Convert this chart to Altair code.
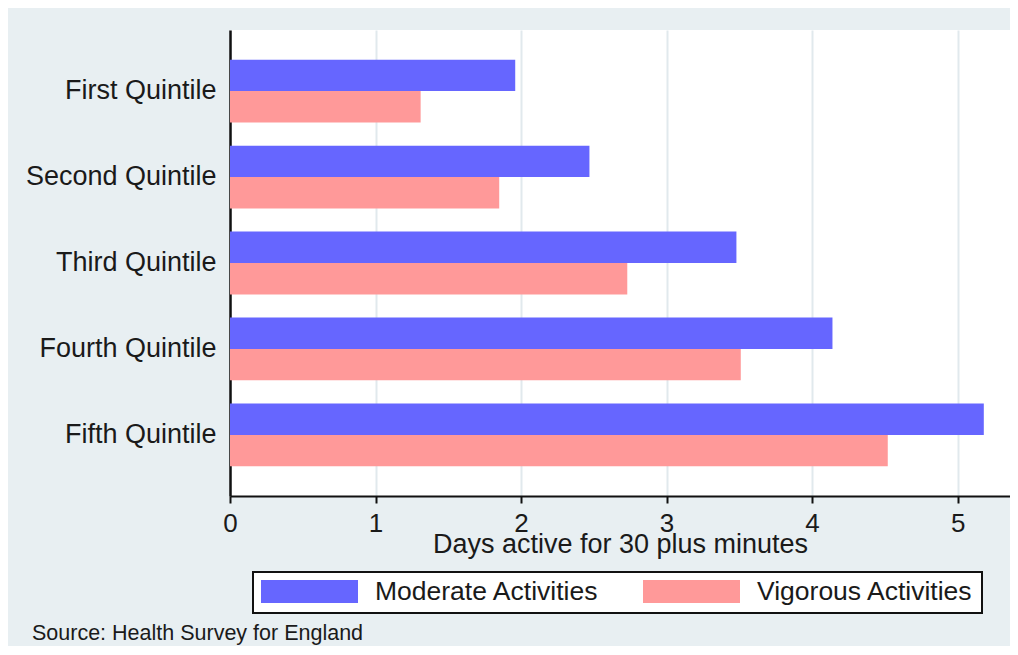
import altair as alt
import pandas as pd

quintiles = ["First Quintile", "Second Quintile", "Third Quintile", "Fourth Quintile", "Fifth Quintile"]
series = ["Moderate Activities", "Vigorous Activities"]
moderate = [1.96, 2.47, 3.48, 4.14, 5.18]
vigorous = [1.31, 1.85, 2.73, 3.51, 4.52]
x_ticks = [0, 1, 2, 3, 4, 5]
colors = ["#6666ff", "#ff9999"]

rows = []
for q, m, v in zip(quintiles, moderate, vigorous):
    rows.append({"quintile": q, "series": series[0], "days": m})
    rows.append({"quintile": q, "series": series[1], "days": v})
df = pd.DataFrame(rows)

FONT = "Liberation Sans"
TXT = "#1a1a1a"

bars = alt.Chart(df).mark_bar().encode(
    x=alt.X("days:Q",
            scale=alt.Scale(domain=[0, 5.36], nice=False, zero=True),
            axis=alt.Axis(values=x_ticks, title="Days active for 30 plus minutes",
                          format="d", grid=True, gridColor="#e1e9ed", gridWidth=2,
                          domainColor="#111111", domainWidth=2,
                          tickColor="#111111", tickWidth=2, tickSize=7,
                          labelFontSize=26, labelFont=FONT, labelColor=TXT,
                          labelPadding=7, labelFlush=False,
                          titleFontSize=27, titleFont=FONT, titleColor=TXT,
                          titleFontWeight="normal", titlePadding=-5)),
    y=alt.Y("quintile:N", sort=quintiles,
            scale=alt.Scale(paddingInner=0.27, paddingOuter=0.345),
            axis=alt.Axis(title=None, ticks=False, tickSize=0, grid=False,
                          domainColor="#111111", domainWidth=2.5,
                          labelFontSize=27, labelFont=FONT, labelColor=TXT,
                          labelPadding=14, labelLimit=300)),
    yOffset=alt.YOffset("series:N", sort=series,
                        scale=alt.Scale(paddingInner=0, paddingOuter=0)),
    color=alt.Color("series:N", sort=series,
                    scale=alt.Scale(domain=series, range=colors),
                    legend=alt.Legend(title=None, orient="none", legendX=23, legendY=542,
                                      direction="horizontal", columns=2)),
).properties(
    width=780,
    height=466,
    title=alt.TitleParams("Source: Health Survey for England", orient="bottom",
                          anchor="start", frame="group", fontSize=21.5, font=FONT,
                          color=TXT, fontWeight="normal", dx=-198, offset=9),
    background="#e8eff2",
    padding={"left": 222, "top": 22, "right": 0, "bottom": 150},
    autosize=alt.AutoSizeParams(type="none"),
).configure_view(
    fill="white", stroke=None
).configure_legend(
    fillColor="white", strokeColor="#111111", strokeWidth=2, padding=8,
    cornerRadius=0,
    symbolType="M-1,-0.237H1V0.237H-1Z", symbolSize=9409, symbolStrokeWidth=0,
    symbolOpacity=1, clipHeight=23,
    labelFontSize=26.5, labelFont=FONT, labelColor=TXT, labelOffset=17,
    labelLimit=400, columnPadding=44,
)

chart = bars
chart.save("out.html", embed_options={"renderer": "svg", "actions": False})
